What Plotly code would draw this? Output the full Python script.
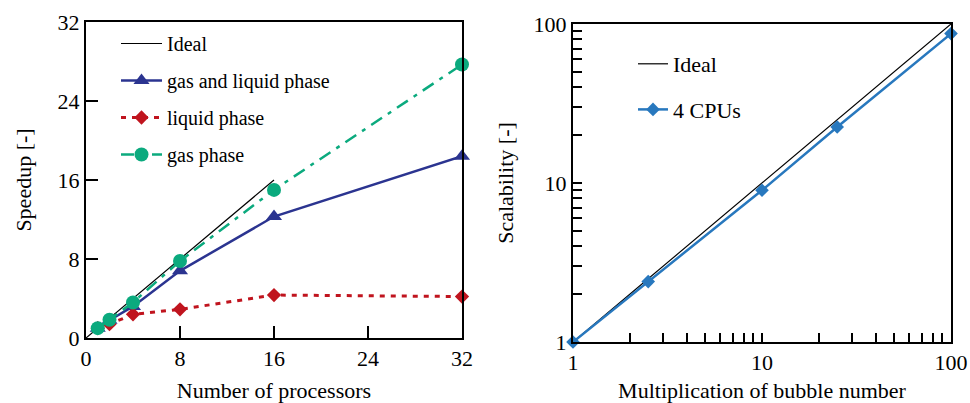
import plotly.graph_objects as go

# ---- data: parallel speedup vs. number of processors ----
processors = [1, 2, 4, 8, 16, 32]
ideal_x = [0, 16]
ideal_y = [0, 16]
speedup_gas_liquid = [1.0, 1.8, 3.2, 6.8, 12.3, 18.4]
speedup_liquid = [1.0, 1.4, 2.4, 2.9, 4.35, 4.2]
speedup_gas = [1.0, 1.85, 3.6, 7.8, 15.0, 27.7]

# ---- data: scalability vs. multiplication of bubble number ----
bubble_mult = [1, 2.5, 10, 25, 100]
ideal_scal_x = [1, 100]
ideal_scal_y = [1, 100]
scal_4cpu = [1.0, 2.4, 9.0, 22.5, 87.0]

left_ticks = [0, 8, 16, 24, 32]
log_ticks = [1, 2, 3, 4, 5, 6, 7, 8, 9, 10, 20, 30, 40, 50, 60, 70, 80, 90, 100]
log_labels = ["1" if v == 1 else "10" if v == 10 else "100" if v == 100 else "" for v in log_ticks]

FONT = "Liberation Serif"
BLUE = "#2B3490"
RED = "#C0141E"
GREEN = "#0BAA7E"
LBLUE = "#2878BE"

fig = go.Figure()

fig.add_trace(go.Scatter(x=ideal_x, y=ideal_y, mode="lines", name="Ideal",
                         line=dict(color="black", width=1.2),
                         xaxis="x", yaxis="y", legend="legend", legendgroup="a"))
fig.add_trace(go.Scatter(x=processors, y=speedup_gas_liquid, mode="lines+markers",
                         name="gas and liquid phase",
                         line=dict(color=BLUE, width=2.5),
                         marker=dict(symbol="triangle-up", size=14, color=BLUE),
                         cliponaxis=False, xaxis="x", yaxis="y", legend="legend", legendgroup="b"))
fig.add_trace(go.Scatter(x=processors, y=speedup_liquid, mode="lines+markers",
                         name="liquid phase",
                         line=dict(color=RED, width=3, dash="5px,6px"),
                         marker=dict(symbol="diamond", size=11, color=RED),
                         cliponaxis=False, xaxis="x", yaxis="y", legend="legend", legendgroup="c"))
fig.add_trace(go.Scatter(x=processors, y=speedup_gas, mode="lines+markers",
                         name="gas phase",
                         line=dict(color=GREEN, width=2.5, dash="13px,7px,4px,7px"),
                         marker=dict(symbol="circle", size=14, color=GREEN),
                         cliponaxis=False, xaxis="x", yaxis="y", legend="legend", legendgroup="d"))

fig.add_trace(go.Scatter(x=ideal_scal_x, y=ideal_scal_y, mode="lines", name="Ideal",
                         line=dict(color="black", width=1.2),
                         xaxis="x2", yaxis="y2", legend="legend2", legendgroup="e"))
fig.add_trace(go.Scatter(x=bubble_mult, y=scal_4cpu, mode="lines+markers", name="4 CPUs",
                         line=dict(color=LBLUE, width=2.5),
                         marker=dict(symbol="diamond", size=10.5, color=LBLUE),
                         cliponaxis=False, xaxis="x2", yaxis="y2", legend="legend2", legendgroup="f"))

axis_common = dict(showline=True, linecolor="black", linewidth=2, mirror=True,
                   ticks="inside", tickcolor="black", tickwidth=1.5,
                   showgrid=False, zeroline=False, automargin=False,
                   tickfont=dict(family=FONT, size=22, color="black"),
                   title_font=dict(family=FONT, size=22, color="black"))

fig.update_layout(
    width=970, height=403,
    margin=dict(l=0, r=0, t=0, b=0),
    paper_bgcolor="white", plot_bgcolor="white",
    font=dict(family=FONT, color="black"),
    xaxis=dict(domain=[86 / 970, 462 / 970], range=[0, 32], tickvals=left_ticks,
               ticklen=12, title=dict(text="Number of processors", standoff=14),
               anchor="y", **axis_common),
    yaxis=dict(domain=[(403 - 338) / 403, (403 - 22) / 403], range=[0, 32], tickvals=left_ticks,
               ticklen=12, title=dict(text="Speedup [-]", standoff=20),
               anchor="x", **axis_common),
    xaxis2=dict(domain=[573 / 970, 951 / 970], type="log", range=[0, 2],
                tickvals=log_ticks, ticktext=log_labels, ticklen=9,
                title=dict(text="Multiplication of bubble number", standoff=9),
                anchor="y2", **axis_common),
    yaxis2=dict(domain=[(403 - 342) / 403, (403 - 24) / 403], type="log", range=[0, 2],
                tickvals=log_ticks, ticktext=log_labels, ticklen=9,
                title=dict(text="Scalability [-]", standoff=14),
                anchor="x2", **axis_common),
    legend=dict(x=116 / 970, y=1 - 24 / 403, xanchor="left", yanchor="top",
                bgcolor="rgba(0,0,0,0)", font=dict(family=FONT, size=20, color="black"),
                tracegroupgap=8, itemwidth=41),
    legend2=dict(x=633 / 970, y=1 - 43 / 403, xanchor="left", yanchor="top",
                 bgcolor="rgba(0,0,0,0)", font=dict(family=FONT, size=22, color="black"),
                 tracegroupgap=14),
    showlegend=True,
)

fig.write_html("out.html")
